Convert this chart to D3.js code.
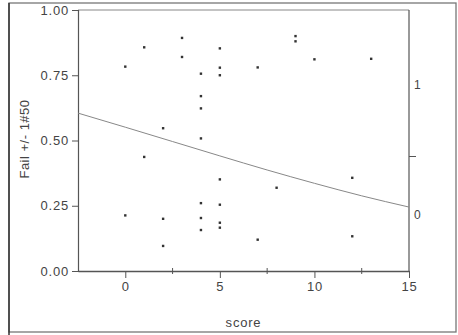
<!DOCTYPE html>
<html><head><meta charset="utf-8">
<script src="https://cdn.jsdelivr.net/npm/d3@7"></script>
<style>
html,body{margin:0;padding:0;background:#fff;}
svg{display:block;font-family:"Liberation Sans",Arial,sans-serif;}
</style></head>
<body>
<script>
// Data
const scoreValues = [0,0, 1,1, 2,2,2, 3,3, 4,4,4,4,4,4,4, 5,5,5,5,5,5,5, 7,7, 8, 9,9, 10, 12,12, 13];
const failValues  = [0.783,0.213, 0.857,0.437, 0.547,0.200,0.096, 0.893,0.820,
  0.756,0.670,0.623,0.508,0.260,0.203,0.157,
  0.853,0.779,0.750,0.351,0.254,0.185,0.166,
  0.780,0.120, 0.319, 0.900,0.880, 0.811, 0.357,0.133, 0.813];
// fitted curve
const curveX = [-2.5, 0, 2.5, 5, 7.5, 10, 12.5, 15];
const curveY = [0.605, 0.551, 0.496, 0.441, 0.387, 0.336, 0.288, 0.245];
const xTicks = [0, 5, 10, 15];
const xMinorTicks = [2.5, 7.5, 12.5];
const yTicks = [0, 0.25, 0.5, 0.75, 1];
const rightLabels = [0, 1];
const rightTick = [0.45];

const W = 458, H = 335;
const svg = d3.select("body").append("svg").attr("width", W).attr("height", H);

// outer frame
svg.append("rect").attr("x", 9).attr("y", 3).attr("width", 447).attr("height", 329)
  .attr("fill", "none").attr("stroke", "#777").attr("stroke-width", 1.3);
svg.append("line").attr("x1", 9).attr("x2", 9).attr("y1", 3).attr("y2", 335)
  .attr("stroke", "#333").attr("stroke-width", 1.5);

const x = d3.scaleLinear().domain([-2.5, 15]).range([78, 409]);
const y = d3.scaleLinear().domain([0, 1]).range([271, 10]);
const yR = d3.scaleLinear().domain([0, 1]).range([215, 85]);

const textCol = "#444", lineCol = "#555";

// plot box top and right
svg.append("line").attr("x1", 78).attr("x2", 409).attr("y1", 10).attr("y2", 10)
  .attr("stroke", "#888").attr("stroke-width", 1);
svg.append("line").attr("x1", 409).attr("x2", 409).attr("y1", 10).attr("y2", 271)
  .attr("stroke", lineCol).attr("stroke-width", 1.2);

// left axis
const gy = svg.append("g").attr("transform", "translate(78,0)")
  .call(d3.axisLeft(y).tickValues(yTicks).tickFormat(d3.format(".2f")).tickSize(6).tickPadding(3));
gy.select(".domain").attr("stroke", lineCol).attr("stroke-width", 1.2);
gy.selectAll(".tick line").attr("stroke", lineCol);
gy.selectAll("text").attr("fill", textCol).style("font-size", "13px").style("letter-spacing", "0.8px")
  .style("font-family", "'Liberation Sans',Arial,sans-serif");

// bottom axis
const gx = svg.append("g").attr("transform", "translate(0,271)")
  .call(d3.axisBottom(x).tickValues(xTicks).tickFormat(d3.format("d")).tickSize(7).tickPadding(4).tickSizeOuter(0));
gx.select(".domain").attr("stroke", lineCol).attr("stroke-width", 1.4);
gx.selectAll(".tick line").attr("stroke", lineCol);
gx.selectAll("text").attr("fill", textCol).style("font-size", "13px").style("letter-spacing", "0.8px")
  .style("font-family", "'Liberation Sans',Arial,sans-serif");
svg.append("g").selectAll("line").data(xMinorTicks).join("line")
  .attr("x1", d => x(d)).attr("x2", d => x(d)).attr("y1", 268).attr("y2", 274)
  .attr("stroke", lineCol).attr("stroke-width", 1);

// right axis
svg.append("g").selectAll("text").data(rightLabels).join("text")
  .attr("x", 414).attr("y", d => yR(d)).attr("dy", "0.35em")
  .attr("fill", textCol).style("font-size", "12px").text(d => d);
svg.append("g").selectAll("line").data(rightTick).join("line")
  .attr("x1", 409).attr("x2", 416).attr("y1", d => yR(d)).attr("y2", d => yR(d))
  .attr("stroke", lineCol).attr("stroke-width", 1);

// fitted curve
const line = d3.line().x(d => x(d[0])).y(d => y(d[1])).curve(d3.curveMonotoneX);
svg.append("path").datum(curveX.map((v, i) => [v, curveY[i]]))
  .attr("d", line).attr("fill", "none").attr("stroke", "#888").attr("stroke-width", 1);

// points
svg.append("g").selectAll("rect").data(scoreValues.map((v, i) => [v, failValues[i]])).join("rect")
  .attr("x", d => x(d[0]) - 1.2).attr("y", d => y(d[1]) - 1.2)
  .attr("width", 2.4).attr("height", 2.4).attr("fill", "#333");

// titles
svg.append("text").attr("x", 243.5).attr("y", 327).attr("text-anchor", "middle")
  .attr("fill", textCol).style("font-size", "13px").style("letter-spacing", "0.8px").text("score");
svg.append("text").attr("transform", "translate(29,139) rotate(-90)").attr("text-anchor", "middle")
  .attr("fill", textCol).style("font-size", "13px").style("letter-spacing", "0.5px").text("Fail +/- 1#50");
</script>
</body></html>
